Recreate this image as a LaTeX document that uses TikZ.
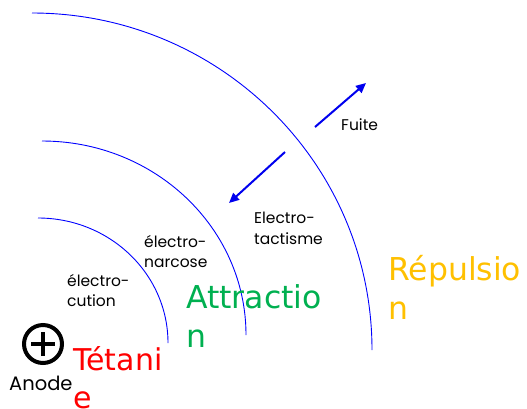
\documentclass[tikz,border=0pt]{standalone}
\usepackage{fontspec}
\setmainfont{Poppins}
\newfontfamily\bigfont{DejaVu Sans}
\usetikzlibrary{arrows.meta}
\definecolor{zoneblue}{HTML}{0000FF}
\definecolor{arrowblue}{HTML}{0000EE}
\definecolor{tetred}{HTML}{FF0000}
\definecolor{attgreen}{HTML}{00B050}
\definecolor{repyellow}{HTML}{FFC000}

\begin{document}
\begin{tikzpicture}[
  x=1pt,
  y=-1pt,
  zone/.style={draw=zoneblue,line width=0.9pt},
  move/.style={draw=arrowblue,line width=2pt,-{Triangle[length=10pt,width=9pt]}},
  smalltext/.style={inner sep=0pt,align=left,font=\fontsize{15.5}{20.5}\selectfont},
  bigtext/.style={inner sep=0pt,align=left,font=\bigfont\fontsize{31.5}{39}\selectfont}
]
  % Page frame of the original picture.
  \useasboundingbox (0,0) rectangle (527,408);

  % Field zones around the anode: quarter arcs.
  \coordinate (outerTop) at (32,13);
  \coordinate (middleTop) at (42,141);
  \coordinate (innerTop) at (38,218);
  \draw[zone] (outerTop) arc[start angle=-90,end angle=0,x radius=340,y radius=337];
  \draw[zone] (middleTop) arc[start angle=-90,end angle=0,x radius=204,y radius=194];
  \draw[zone] (innerTop) arc[start angle=-90,end angle=0,x radius=130,y radius=125];

  % Anode symbol.
  \node[circle,draw,line width=4pt,minimum size=38pt,inner sep=0pt] (anode) at (43,344) {};
  \draw[line width=4pt] ([xshift=-12pt]anode.center) -- ([xshift=12pt]anode.center);
  \draw[line width=4pt] ([yshift=-12pt]anode.center) -- ([yshift=12pt]anode.center);

  % Zone labels.
  \node[smalltext,anchor=base west,font=\fontsize{19.5}{20}\selectfont] (anodeLabel) at (9,390) {Anode};
  \node[smalltext,anchor=base west] (fuite) at (341,130) {Fuite};
  \node[smalltext,anchor=north west] (tactisme) at (254,212) {Electro-\\tactisme};
  \node[smalltext,anchor=north west] (narcose) at (144,235) {électro-\\narcose};
  \node[smalltext,anchor=north west] (cution) at (67,274) {électro-\\cution};

  \node[bigtext,anchor=north west,text=tetred,font=\bigfont\fontsize{30}{38}\selectfont] (tetanie) at (73,346) {Tétani\\e};
  \node[bigtext,anchor=north west,text=attgreen] (attraction) at (186,284) {Attractio\\n};
  \node[bigtext,anchor=north west,text=repyellow] (repulsion) at (388,255) {Répulsio\\n};

  % Fish reactions: flight outward, attraction inward.
  \coordinate (fuiteStart) at (315,127);
  \coordinate (fuiteEnd) at (366,83);
  \coordinate (attrStart) at (285,152);
  \coordinate (attrEnd) at (229,203);
  \draw[move] (fuiteStart) -- (fuiteEnd);
  \draw[move] (attrStart) -- (attrEnd);
\end{tikzpicture}
\end{document}
